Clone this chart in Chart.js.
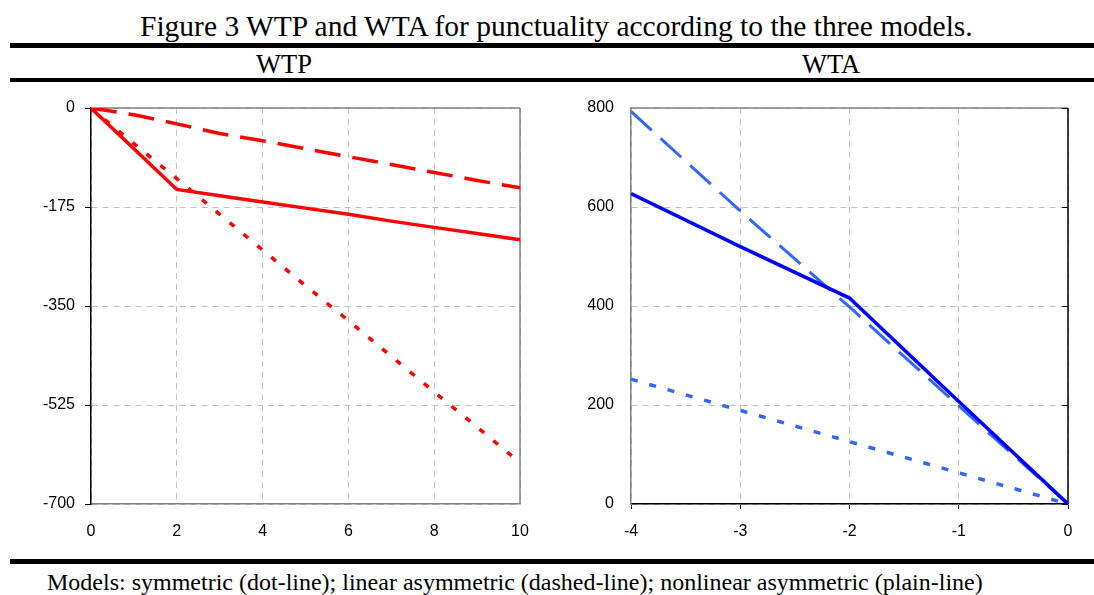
<!DOCTYPE html>
<html>
<head>
<meta charset="utf-8">
<script src="https://cdn.jsdelivr.net/npm/chart.js@4"></script>
<style>
    body { margin: 0; background: #fff; width: 1094px; height: 595px; position: relative; overflow: hidden; }
    .txt { position: absolute; font-family: 'Liberation Serif', 'Times New Roman', serif; color: #000; line-height: 1; white-space: nowrap; }
    .rule { position: absolute; left: 10px; width: 1084px; background: #000; }
    .box { position: absolute; top: 88px; width: 547px; height: 460px; }
</style>
</head>
<body>
<div class="txt" style="left:140px; top:12px; font-size:29.5px;">Figure 3 WTP and WTA for punctuality according to the three models.</div>
<div class="rule" style="top:43px; height:5px;"></div>
<div class="txt" style="left:184px; width:200px; text-align:center; top:50.5px; font-size:26.5px;">WTP</div>
<div class="txt" style="left:731px; width:200px; text-align:center; top:50.5px; font-size:26.5px;">WTA</div>
<div class="rule" style="top:78px; height:4px;"></div>
<div class="box" style="left:0;"><canvas id="WTPChart"></canvas></div>
<div class="box" style="left:547px;"><canvas id="WTAChart"></canvas></div>
<div class="rule" style="top:559px; height:5px;"></div>
<div class="txt" style="left:47px; top:570px; font-size:24px;">Models: symmetric (dot-line); linear asymmetric (dashed-line); nonlinear asymmetric (plain-line)</div>

<script>
// WTP panel (punctuality gain, minutes)
const wtpX = [0, 1, 2, 3, 4, 5, 6, 7, 8, 9, 10];
const wtpSym = [0, -63, -125, -188, -251, -314, -376, -439, -502, -564, -627];
const wtpLin = [0, -12, -28, -45, -58, -72, -86, -100, -114, -128, -141];
const wtpNonlin = [0, -72, -144, -155, -166, -177, -188, -200, -211, -222, -233];
const wtpYTicks = [0, -175, -350, -525, -700];

// WTA panel (punctuality loss, minutes)
const wtaX = [-4, -3, -2, -1, 0];
const wtaSym = [252, 189, 126, 63, 0];
const wtaLin = [793, 592, 398, 198, 0];
const wtaNonlin = [627, 520, 416, 207, 0];
const wtaYTicks = [0, 200, 400, 600, 800];

const toPoints = (xs, ys) => xs.map((x, i) => ({ x: x, y: ys[i] }));

const RED = '#ff0000';
const BLUE = '#0000ff';
const LIGHTBLUE = '#3366ff';
const GRID = '#c0c0c0';
const FRAME = '#808080';
const tickFont = { family: "'Liberation Sans', Arial, sans-serif", size: 16 };

// draws the grey plot frame sides and the small inner ticks
const framePlugin = {
    id: 'frame',
    beforeDatasetsDraw(chart, args, opts) {
        const { ctx, chartArea: a } = chart;
        ctx.save();
        ctx.lineWidth = 1.5;
        const side = (color, x1, y1, x2, y2) => {
            if (!color) return;
            ctx.strokeStyle = color;
            ctx.beginPath();
            ctx.moveTo(x1, y1);
            ctx.lineTo(x2, y2);
            ctx.stroke();
        };
        side(opts.top, a.left, a.top, a.right, a.top);
        side(opts.right, a.right, a.top, a.right, a.bottom);
        if (opts.innerTicksRight) {
            const ys = chart.scales.y;
            ctx.strokeStyle = '#000';
            ctx.lineWidth = 1;
            ys.ticks.forEach(t => {
                const py = Math.round(ys.getPixelForValue(t.value)) + 0.5;
                ctx.beginPath();
                ctx.moveTo(a.right - 6, py);
                ctx.lineTo(a.right, py);
                ctx.stroke();
            });
        }
        ctx.restore();
    }
};

const lineSet = (data, color, width, dash) => ({
    data: data,
    borderColor: color,
    backgroundColor: color,
    borderWidth: width,
    borderDash: dash,
    pointRadius: 0,
    showLine: true,
    tension: 0,
    fill: false
});

const config_WTP = {
    type: 'scatter',
    data: {
        datasets: [
            lineSet(toPoints(wtpX, wtpNonlin), RED, 3.5, []),
            lineSet(toPoints(wtpX, wtpLin), RED, 3.5, [26, 12]),
            lineSet(toPoints(wtpX, wtpSym), RED, 3.5, [6, 12])
        ]
    },
    options: {
        responsive: false,
        animation: false,
        layout: { padding: { top: 20, right: 27, left: 0, bottom: 0 } },
        plugins: {
            legend: { display: false },
            tooltip: { enabled: false },
            frame: { top: FRAME, right: FRAME }
        },
        scales: {
            x: {
                type: 'linear',
                min: 0,
                max: 10,
                afterBuildTicks: s => { s.ticks = wtpX.filter(v => v % 2 === 0).map(v => ({ value: v })); },
                afterFit: s => { s.height = 44; },
                ticks: { color: '#000', font: tickFont, padding: 18 },
                grid: { color: GRID, lineWidth: 1, drawTicks: false },
                border: { display: true, color: FRAME, width: 1.5, dash: [6, 5] }
            },
            y: {
                type: 'linear',
                min: -700,
                max: 0,
                afterBuildTicks: s => { s.ticks = wtpYTicks.map(v => ({ value: v })); },
                afterFit: s => { s.width = 91; },
                ticks: { color: '#000', font: tickFont, padding: 10 },
                grid: { color: GRID, lineWidth: 1, drawTicks: true, tickLength: 6, tickColor: '#000', tickWidth: 1 },
                border: { display: true, color: '#000', width: 1.5, dash: [6, 5] }
            }
        }
    },
    plugins: [framePlugin]
};

const config_WTA = {
    type: 'scatter',
    data: {
        datasets: [
            lineSet(toPoints(wtaX, wtaNonlin), BLUE, 3.5, []),
            lineSet(toPoints(wtaX, wtaLin), LIGHTBLUE, 3, [28, 12]),
            lineSet(toPoints(wtaX, wtaSym), LIGHTBLUE, 3.5, [7, 12])
        ]
    },
    options: {
        responsive: false,
        animation: false,
        layout: { padding: { top: 20, right: 26, left: 0, bottom: 0 } },
        plugins: {
            legend: { display: false },
            tooltip: { enabled: false },
            frame: { top: FRAME, right: '#000', innerTicksRight: true }
        },
        scales: {
            x: {
                type: 'linear',
                min: -4,
                max: 0,
                afterBuildTicks: s => { s.ticks = wtaX.map(v => ({ value: v })); },
                afterFit: s => { s.height = 44; },
                ticks: { color: '#000', font: tickFont, padding: 13 },
                grid: { color: GRID, lineWidth: 1, drawTicks: true, tickLength: 5, tickColor: '#000', tickWidth: 1 },
                border: { display: true, color: '#000', width: 1.5, dash: [6, 5] }
            },
            y: {
                type: 'linear',
                min: 0,
                max: 800,
                afterBuildTicks: s => { s.ticks = wtaYTicks.map(v => ({ value: v })); },
                afterFit: s => { s.width = 84; },
                ticks: { color: '#000', font: tickFont, padding: 9 },
                grid: { color: GRID, lineWidth: 1, drawTicks: true, tickLength: 8, tickColor: 'rgba(0,0,0,0)' },
                border: { display: true, color: FRAME, width: 1.5, dash: [6, 5] }
            }
        }
    },
    plugins: [framePlugin]
};

for (const id of ['WTPChart', 'WTAChart']) {
    const c = document.getElementById(id);
    c.width = 547;
    c.height = 460;
    c.style.width = '547px';
    c.style.height = '460px';
}

const myChart_WTP = new Chart(document.getElementById('WTPChart'), config_WTP);
const myChart_WTA = new Chart(document.getElementById('WTAChart'), config_WTA);
</script>
</body>
</html>
